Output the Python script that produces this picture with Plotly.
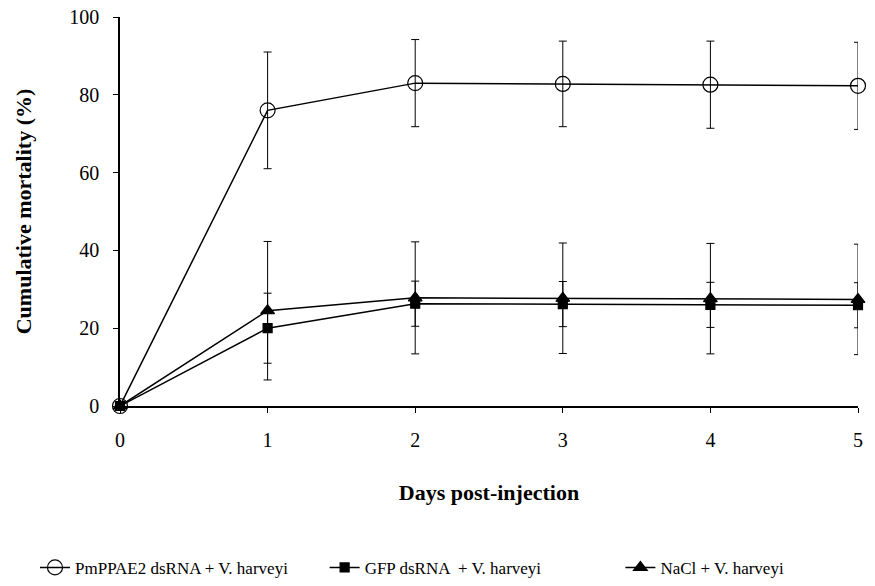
import plotly.graph_objects as go

days = [0, 1, 2, 3, 4, 5]
series_names = ["PmPPAE2 dsRNA + V. harveyi", "GFP dsRNA  + V. harveyi", "NaCl + V. harveyi"]
pm_vals = [0, 76.0, 83.0, 82.8, 82.6, 82.3]
pm_err = [0, 15.0, 11.2, 11.0, 11.2, 11.2]
gfp_vals = [0, 20.0, 26.3, 26.2, 26.0, 25.9]
gfp_err = [0, 9.0, 5.8, 5.8, 5.8, 5.8]
nacl_vals = [0, 24.5, 27.8, 27.7, 27.6, 27.4]
nacl_err = [0, 17.8, 14.4, 14.2, 14.2, 14.2]
x_ticks = [0, 1, 2, 3, 4, 5]
y_ticks = [0, 20, 40, 60, 80, 100]

FONT = "Liberation Serif"

fig = go.Figure()

def add(name, vals, err, symbol, size, legend):
    fig.add_trace(go.Scatter(
        x=days, y=vals, name=name, mode="lines+markers", legend=legend,
        line=dict(color="black", width=1.5),
        marker=dict(symbol=symbol, size=size, color="black",
                    line=dict(color="black", width=1.2)),
        error_y=dict(type="data", array=err, visible=True, color="black",
                     thickness=1, width=4),
        cliponaxis=False,
    ))

add(series_names[0], pm_vals, pm_err, "circle-open", 15, "legend")
add(series_names[1], gfp_vals, gfp_err, "square", 9, "legend2")
add(series_names[2], nacl_vals, nacl_err, "triangle-up", 12, "legend3")

leg_common = dict(orientation="h", xanchor="left", xref="container", yref="container",
                  y=0.031, yanchor="middle",
                  font=dict(family=FONT, size=17), itemwidth=30,
                  bgcolor="rgba(0,0,0,0)")

fig.update_layout(
    width=875, height=586,
    margin=dict(l=120, r=17, t=17, b=180),
    paper_bgcolor="white", plot_bgcolor="white",
    font=dict(family=FONT, color="black", size=18),
    showlegend=True,
    legend=dict(x=0.04, **leg_common),
    legend2=dict(x=0.371, **leg_common),
    legend3=dict(x=0.709, **leg_common),
)
fig.update_xaxes(
    range=[0, 5], tickvals=x_ticks, ticktext=[str(t) for t in x_ticks],
    showline=True, linecolor="black", linewidth=1.5, showgrid=False, zeroline=False,
    ticks="outside", ticklen=5, tickcolor="black", ticklabelstandoff=10,
    tickfont=dict(family=FONT, size=20), automargin=False,
    title=dict(text="<b>Days post-injection</b>", font=dict(family=FONT, size=22), standoff=35),
)
fig.update_yaxes(
    range=[0, 100], tickvals=y_ticks,
    showline=True, linecolor="black", linewidth=1.5, showgrid=False, zeroline=False,
    ticks="outside", ticklen=5, tickcolor="black", ticklabelstandoff=10,
    tickfont=dict(family=FONT, size=20), automargin=False,
    title=dict(text="<b>Cumulative mortality (%)</b>", font=dict(family=FONT, size=22), standoff=32),
)

fig.write_html("out.html")
